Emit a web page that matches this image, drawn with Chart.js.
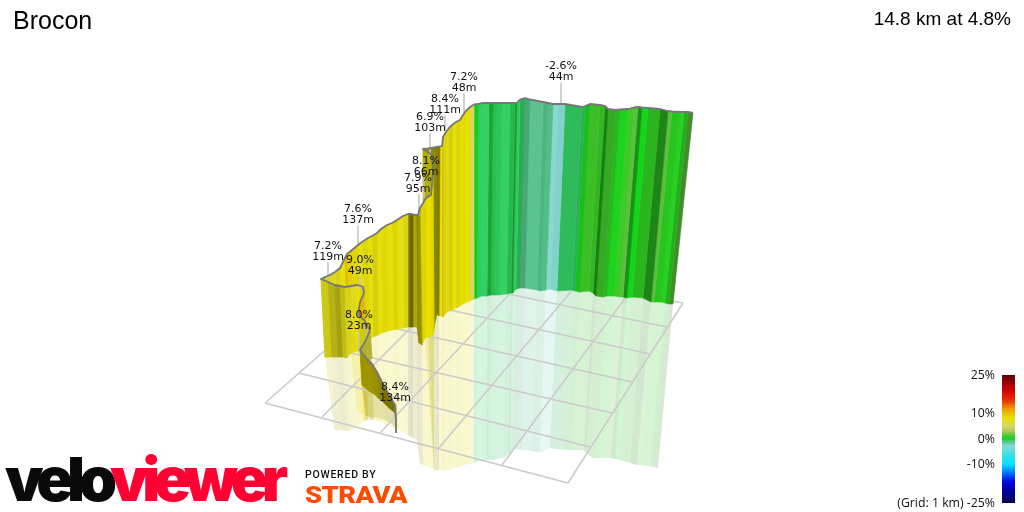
<!DOCTYPE html>
<html lang="en">
<head>
<meta charset="UTF-8">
<title>Brocon</title>
<script src="https://cdn.jsdelivr.net/npm/chart.js"></script>
<style>
    html, body { margin: 0; padding: 0; background: #fff; }
    body { width: 1024px; height: 512px; position: relative; overflow: hidden; font-family: "Liberation Sans", Arial, sans-serif; }
    canvas { position: absolute; }
    #wallChart { left: 0; top: 0; }
    #scaleChart { left: 890px; top: 365px; }
    .txt { position: absolute; white-space: nowrap; line-height: 1; }
    #title { left: 13px; top: 8px; font-size: 25px; color: #000; }
    #summary { right: 13px; top: 9px; font-size: 19px; color: #000; }
    #logo { left: 5px; top: 442px; font: 900 61px Inter, Roboto, sans-serif; letter-spacing: -6.2px; transform-origin: left top; }
    #logo b { font-weight: 900; color: #0a0a0a; }
    #logo i { font-style: normal; color: #ff0033; }
    #powered { left: 305px; top: 468px; font: 500 10.5px Roboto, sans-serif; letter-spacing: 0.75px; color: #111; }
    #strava { left: 305px; top: 481px; font: 900 24px Roboto, sans-serif; color: #fc4c02; letter-spacing: -0.5px; transform-origin: left top; transform: scaleX(1.14); }
</style>
</head>
<body>
<canvas id="wallChart" width="1024" height="512"></canvas>
<canvas id="scaleChart" width="134" height="147"></canvas>
<div class="txt" id="title">Brocon</div>
<div class="txt" id="summary">14.8 km at 4.8%</div>
<div class="txt" id="logo"><b>velo</b><i>viewer</i></div>
<div class="txt" id="powered">POWERED BY</div>
<div class="txt" id="strava">STRAVA</div>

<script>
// route, far end first so the near parts paint over it
// groups: green and last yellow / upper yellow / back fold / hairpin / dark fold / long yellow / front wall / tail
const wallTopX = [693,688,684,680,672,668,660,648,642,638,634,628,620,616,608,605,600,590,585,582,565,558,553,548,543,530,525,520,517,515,510,502,497,493,489,483,478,474,470,465,
    463,460,456,452,449,446,443,442,
    440,437,434,428,423,
    432,433,431,426,420,418,
    416,413,410,408,
    403,397,392,387,381,377,372,368,362,358,352,347,344,340,335,330,325,321,
    328,335,340,345,351,357,361,363,364,360,359,359,364,370,366,360,
    366,372,377,383,388,395,396,396];
const wallTopY = [113,112,112,112,111.5,111,109,108,107.5,107,107.5,109,109.5,110,109,106,105,104,106,107,104,104,104,103,102,99.5,98,99.5,103,103,103,103,103,103,103,103,104,104.5,107,112,
    115,120,122,125,128,132,137,146,
    146.5,147,147.5,148.5,149,
    155,173,195,198,208,215,
    215,214.5,214,214,
    216,220,223,225,229,233,236,238,242,245,250,254,260,268,272,275,277,279,
    282,285,286,287,286,285,286,287,293,302,308,315,320,330,340,350,
    358,364,372,384,393,405,420,432];
const wallBaseX = [673,669,665,661.5,654,651,643,632,627,623,620,614,607,603,596,593,589,580,575,572,557,550,546,541,537,525,520,516,513,511,506.5,499,495,491,487,482,477,474,470,465,
    463,460,456,452,449,446,443,442,
    439,437,434,428,424,
    434,434,432,425,422,419,
    417,413,410,408,
    404,398,393,388,382,378,373,370,365,361,355,351,348,344,339,334,329,325,
    332,338,343,347,351,355,358,360,365,360,360,360,365,372,368,362,
    370,374,378,384,389,395,396,396];
const wallBaseY = [304,304,303,302,302,302,298,297,298,297,297,296,296,297,296,293,291,292,291,290,291,289,290,291,290,288,288,289,293,293,294,295,295,295,296,296,298,299,301,303,
    304,306,308,310,311,313,317,316,
    316,314,328,326,322,
    329,331,336,338,345,343,
    327,327,327,327,
    328,329,330,331,333,335,337,339,344,346,350,352,353,354,355,356,357,357,
    357,357,357,358,353,352,351,351,320,325,330,340,345,358,362,385,
    392,394,398,403,408,413,425,433];
// lower edge of the pale reflection under the wall
const mirrorX = [658,654,650,647,640,637,630,620,615,611,609,603,596,593,586,584,580,572,567,564,550,544,540,536,532,521,516,512,510,508,504,497,493,489,486,481,476,474,470,465,
    463,460,456,452,449,446,443,442,
    439,437,434,428,424,
    434,434,432,425,423,420,
    417,413,410,408,
    405,399,394,389,384,380,375,372,367,363,357,351,348,344,339,334,329,325,
    334,341,347,350,355,360,362,364,368,365,364,364,368,374,372,366,
    373,378,382,387,392,397,397,397];
const mirrorY = [468,467,466,466,465,465,463,460,459,458,458,458,458,458,453,450,450,450,450,450,448,451,452,452,451,450,449,451,453,454,458,459,460,460,460,461,462,463,464,465,
    466,467,468,469,470,470,470,470,
    470,470,470,326,322,
    470,469,468,466,465,463,
    440,438,436,435,
    433,430,428,426,424,422,420,418,416,414,412,352,353,354,355,356,357,357,
    430,430,431,431,428,425,423,422,420,420,420,420,420,420,420,416,
    417,418,419,421,424,430,432,433];
// one value per strip between two route points
const stripGrade = [1.5,0.5,0.5,0.5,1.5,0.6,0.7,0,0.3,1.5,1,0.3,0.5,1,0.5,0.8,1,0.3,-0.6,-0.7,-2.8,-2.6,-1.5,-1.5,-1.6,-1.5,-0.7,-0.5,-0.5,-0.5,-0.7,-0.6,-0.5,-0.4,-0.7,-0.6,-0.1,5,8,
    8,8,7.5,8,7,8,7.2,10.5,
    8,8,8,8,8,
    8,8,8,8.1,7.9,8,
    8,8,8,8,
    7.2,7.6,8,7.6,8,7.6,7.6,8,7.6,7.6,8,9,9,8,7.2,7.2,7.2,7.2,
    7.2,7.2,7.2,7.2,7.2,7.2,8,8,8,10.5,8,8,8,5.5,6,6,
    8.4,8.4,8.4,8.4,8.4,8.4,8.4,8.4];
const stripShade = [0.7,0.85,1,0.95,0.95,0.65,0.88,1,0.7,0.95,1,1,0.9,0.85,0.6,0.9,0.95,0.9,0.85,0.9,0.97,1,0.95,0.9,0.97,0.83,0.82,1,0.7,0.88,1,0.95,0.92,0.78,1,1,0.95,1,1,
    0.97,1,0.95,1,0.92,0.98,0.95,0.95,
    1,0.55,0.6,0.62,0.7,
    0.78,0.85,0.95,1,0.95,0.65,
    0.6,0.75,0.45,0.55,
    0.95,1,0.95,1,0.97,1,0.93,1,0.96,1,0.96,1,0.93,1,0.95,0.98,0.95,0.9,
    0.9,0.8,0.72,0.85,0.95,0.98,1,0.95,0.9,1,0.95,0.9,0.9,0.9,0.82,0.8,
    0.68,0.68,0.66,0.62,0.52,0.52,0.5,0.5];

// ground grid, one line per entry
const gridFromX = [430,412,386,362,325,299,265, 265,322,380,438,502,568];
const gridFromY = [258,274,296,321,347,373,403, 403,417,433,449,465,483];
const gridToX   = [683,667,650,632,612,590,568, 430,470,530,585,626,683];
const gridToY   = [303,327,354,382,413,447,483, 258,268,272,275,297,303];

// climb callouts
const calloutGrade = ['7.2%','9.0%','8.0%','8.4%','7.6%','7.9%','8.1%','6.9%','8.4%','7.2%','-2.6%'];
const calloutLength = ['119m','49m','23m','134m','137m','95m','66m','103m','111m','48m','44m'];
const calloutX = [328,360,359,395,358,418,426,430,445,464,561];
const calloutY = [246,260,315,387,209,178,161,117,99,77,66];
const leaderX = [328,360,359,396,358,419,424,430,445,464,561];
const leaderTop = [263,277,332,404,226,195,178,134,116,94,83];
const leaderEnd = [279,290,352,432,245,215,198,155,130,112,103];

// gradient colour scale
const scaleGrades = [-25,-17,-13,-10,-6,-2.6,-1.5,-0.6,0,1,1.5,3,5,8,10,12,15,19,25];
const scaleRed   = [0,0,0,0,64,136,88,48,16,64,96,176,216,232,232,240,232,208,90];
const scaleGreen = [0,0,128,224,224,216,200,208,216,200,200,200,216,224,192,144,48,0,0];
const scaleBlue  = [80,224,255,255,224,208,144,96,24,40,64,96,96,0,0,0,0,0,0];
const scaleTicks = [25,10,0,-10,-25];

function gradeRgb(g) {
    let i = 0;
    while (i < scaleGrades.length - 2 && g > scaleGrades[i + 1]) i++;
    const t = (g - scaleGrades[i]) / (scaleGrades[i + 1] - scaleGrades[i]);
    return [scaleRed, scaleGreen, scaleBlue].map(c => c[i] + (c[i + 1] - c[i]) * t);
}
function gradeColor(g, shade, alpha) {
    const c = gradeRgb(g).map(v => Math.round(v * shade));
    return 'rgba(' + c[0] + ',' + c[1] + ',' + c[2] + ',' + alpha + ')';
}
function shape(points, color, edge) {
    return { data: points, showLine: true, fill: 'shape', backgroundColor: color, borderColor: color, borderWidth: edge, pointRadius: 0, tension: 0 };
}
function stroke(points, color, width) {
    return { data: points, showLine: true, fill: false, borderColor: color, borderWidth: width, pointRadius: 0, tension: 0, borderJoinStyle: 'round' };
}

// paint order: reflection, grid, walls, leaders, outline
const painted = [];
for (let i = 0; i < stripGrade.length; i++) {
    painted.push(shape([
        {x: wallBaseX[i], y: wallBaseY[i]}, {x: wallBaseX[i + 1], y: wallBaseY[i + 1]},
        {x: mirrorX[i + 1], y: mirrorY[i + 1]}, {x: mirrorX[i], y: mirrorY[i]}
    ], gradeColor(stripGrade[i], stripShade[i], 0.2), 0));
}
gridFromX.forEach((x, i) => {
    painted.push(stroke([{x: x, y: gridFromY[i]}, {x: gridToX[i], y: gridToY[i]}], '#cccaca', 1.6));
});
for (let i = 0; i < stripGrade.length; i++) {
    const c = gradeColor(stripGrade[i], stripShade[i], 1);
    painted.push(shape([
        {x: wallTopX[i], y: wallTopY[i]}, {x: wallTopX[i + 1], y: wallTopY[i + 1]},
        {x: wallBaseX[i + 1], y: wallBaseY[i + 1]}, {x: wallBaseX[i], y: wallBaseY[i]},
        {x: wallTopX[i], y: wallTopY[i]}
    ], c, 0.6));
}
leaderX.forEach((x, i) => {
    painted.push(stroke([{x: x, y: leaderTop[i]}, {x: x, y: leaderEnd[i]}], '#c4c4c4', 1.5));
});
painted.push(stroke(wallTopX.map((x, i) => ({x: x, y: wallTopY[i]})), '#777777', 1.8));

const calloutText = {
    id: 'calloutText',
    afterDatasetsDraw(chart) {
        const ctx = chart.ctx;
        ctx.save();
        ctx.font = '11px "DejaVu Sans"';
        ctx.fillStyle = '#111';
        ctx.textAlign = 'center';
        ctx.textBaseline = 'middle';
        calloutX.forEach((x, i) => {
            const px = chart.scales.x.getPixelForValue(x);
            const py = chart.scales.y.getPixelForValue(calloutY[i]);
            ctx.fillText(calloutGrade[i], px, py);
            ctx.fillText(calloutLength[i], px, py + 11);
        });
        ctx.restore();
    }
};

new Chart(document.getElementById('wallChart'), {
    type: 'scatter',
    data: { datasets: painted.reverse() }, // chart.js paints dataset 0 last
    options: {
        responsive: false,
        animation: false,
        events: [],
        layout: { padding: 0 },
        plugins: { legend: { display: false }, tooltip: { enabled: false } },
        scales: {
            x: { type: 'linear', min: 0, max: 1024, display: false },
            y: { type: 'linear', min: 0, max: 512, reverse: true, display: false }
        }
    },
    plugins: [calloutText]
});

// colour bar: one floating bar for each grade step
const barSets = [];
for (let g = -25; g < 25; g += 0.5) {
    barSets.push({ data: [[g, g + 0.5]], backgroundColor: gradeColor(g + 0.25, 1, 1), borderWidth: 0, barPercentage: 1, categoryPercentage: 1 });
}
new Chart(document.getElementById('scaleChart'), {
    type: 'bar',
    data: { labels: ['grade'], datasets: barSets },
    options: {
        responsive: false,
        animation: false,
        events: [],
        layout: { padding: { top: 10, bottom: 9, right: 9, left: 0 } },
        datasets: { bar: { grouped: false } },
        plugins: { legend: { display: false }, tooltip: { enabled: false } },
        scales: {
            x: { display: false },
            y: {
                min: -25, max: 25,
                grid: { display: false, tickLength: 0 },
                border: { display: false },
                afterFit(scale) { scale.width = 112; scale.paddingTop = 0; scale.paddingBottom = 0; },
                afterBuildTicks(scale) { scale.ticks = scaleTicks.map(v => ({ value: v })); },
                ticks: {
                    autoSkip: false,
                    padding: 7,
                    color: '#111',
                    font: { family: 'Open Sans', size: 12.3 },
                    callback: v => (v === -25 ? '(Grid: 1 km) ' : '') + v + '%'
                }
            }
        }
    }
});
</script>
</body>
</html>
